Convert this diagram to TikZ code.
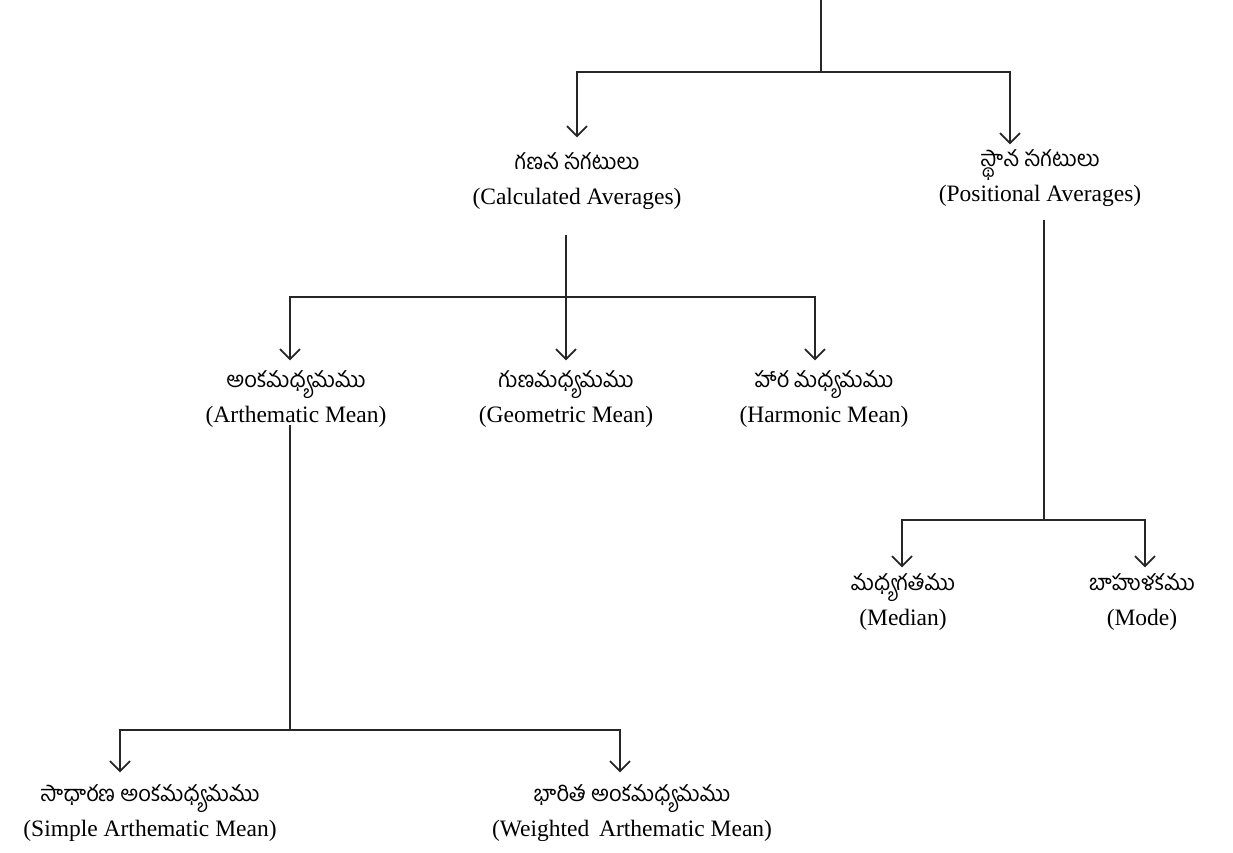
\documentclass[tikz,border=0pt]{standalone}
\usepackage{fontspec}
\setmainfont{Liberation Serif}
\newfontfamily\te[Script=Telugu]{Hind Guntur}
\usetikzlibrary{arrows.meta}
\tikzset{
  lab/.style={align=center, anchor=center, inner sep=0pt, font=\fontsize{23.5}{35}\selectfont},
  conn/.style={line width=1.6pt, draw=black!85},
  arr/.style={conn, -{Straight Barb[length=10pt,width=20pt,line width=1.8pt]}},
  tip/.style={yshift=12pt},
}
\newcommand{\tl}[1]{{\te\fontsize{22}{35}\selectfont #1}}
\begin{document}
\begin{tikzpicture}[x=1pt,y=-1pt]
\useasboundingbox (0,0) rectangle (1233,852);
% junctions
\coordinate (top) at (821,0);
\coordinate (b0) at (821,72);
\coordinate (cs) at (566,235);
\coordinate (b1) at (566,297);
\coordinate (as) at (290,425);
\coordinate (b2) at (290,730);
\coordinate (ps) at (1044,220);
\coordinate (b3) at (1044,520);
% nodes
\node[lab] (calc) at (577,181) {\tl{గణన సగటులు}\\(Calculated Averages)};
\node[lab] (posi) at (1040,178) {\tl{స్థాన సగటులు}\\(Positional Averages)};
\node[lab] (am) at (296,399) {\tl{అంకమధ్యమము}\\(Arthematic Mean)};
\node[lab] (gm) at (566,399) {\tl{గుణమధ్యమము}\\(Geometric Mean)};
\node[lab] (hm) at (824,399) {\tl{హార మధ్యమము}\\(Harmonic Mean)};
\node[lab] (med) at (903,602) {\tl{మధ్యగతము}\\(Median)};
\node[lab] (mode) at (1142,602) {\tl{బాహుళకము}\\(Mode)};
\node[lab] (sam) at (150,813) {\tl{సాధారణ అంకమధ్యమము}\\(Simple Arthematic Mean)};
\node[lab] (wam) at (632,813) {\tl{భారిత అంకమధ్యమము}\\(Weighted\, Arthematic Mean)};
% connectors
\draw[conn] (top) -- (b0);
\draw[arr] (b0) -| ([yshift=15pt]calc.north);
\draw[arr] (b0) -| ([xshift=-30pt,yshift=5pt]posi.north);
\draw[arr] (cs) -- ([yshift=10pt]gm.north);
\draw[arr] (b1) -| ([xshift=-6pt,yshift=10pt]am.north);
\draw[arr] (b1) -| ([xshift=-9pt,yshift=10pt]hm.north);
\draw[conn] (as) -- (b2);
\draw[arr] (b2) -| ([xshift=-30pt,tip]sam.north);
\draw[arr] (b2) -| ([xshift=-12pt,tip]wam.north);
\draw[conn] (ps) -- (b3);
\draw[arr] (b3) -| ([xshift=-1pt,yshift=6pt]med.north);
\draw[arr] (b3) -| ([xshift=3pt,yshift=6pt]mode.north);
\end{tikzpicture}
\end{document}
